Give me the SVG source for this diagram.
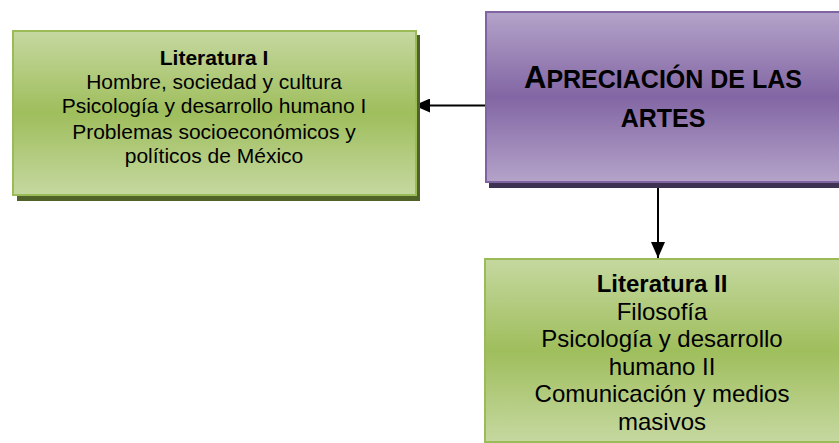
<svg xmlns="http://www.w3.org/2000/svg" width="839" height="443" viewBox="0 0 839 443">
<style>
  text { font-family: "Liberation Sans", Arial, sans-serif; fill: #000; text-anchor: middle; }
  .b { font-weight: bold; }
  .t1 { font-size: 21px; }
  .t3 { font-size: 24px; }
  .gbox { fill: url(#gGreen); stroke: #9bbb59; stroke-width: 2; }
  .gsh { fill: #4f6228; }
  .pbox { fill: url(#gPurple); stroke: #8064a2; stroke-width: 2; }
  .psh { fill: #3f3151; }
  .conn { stroke: #000; stroke-width: 2; fill: none; }
</style>
<defs>
  <linearGradient id="gGreen" x1="0" y1="0" x2="0" y2="1">
    <stop offset="0" stop-color="#c5d8a0"/>
    <stop offset="0.5" stop-color="#9fbe5c"/>
    <stop offset="1" stop-color="#c5d8a0"/>
  </linearGradient>
  <linearGradient id="gPurple" x1="0" y1="0" x2="0" y2="1">
    <stop offset="0" stop-color="#b4a3c9"/>
    <stop offset="0.5" stop-color="#8266a4"/>
    <stop offset="1" stop-color="#b4a3c9"/>
  </linearGradient>
  <marker id="ah" viewBox="0 0 16 14" refX="16" refY="7" markerWidth="16" markerHeight="14" markerUnits="userSpaceOnUse" orient="auto">
    <path d="M0,0 L16,7 L0,14 Z" fill="#000"/>
  </marker>
</defs>

<g id="connectors">
  <line class="conn" x1="486" y1="105.5" x2="414" y2="105.5" marker-end="url(#ah)"/>
  <line class="conn" x1="658" y1="187" x2="658" y2="258" marker-end="url(#ah)"/>
</g>

<g id="node-literatura-1">
  <rect class="gsh" x="17" y="35" width="403" height="166"/>
  <rect class="gbox" x="13" y="31" width="403" height="164"/>
  <text class="t1 b" x="214" y="65">Literatura I</text>
  <text class="t1" x="214" y="89">Hombre, sociedad y cultura</text>
  <text class="t1" x="214" y="113">Psicología y desarrollo humano I</text>
  <text class="t1" x="214" y="139">Problemas socioeconómicos y</text>
  <text class="t1" x="214" y="163">políticos de México</text>
</g>

<g id="node-apreciacion">
  <rect class="psh" x="489" y="16" width="360" height="172"/>
  <rect class="pbox" x="486" y="12" width="360" height="170"/>
  <text class="b" x="663" y="88" style="font-size:25px"><tspan style="font-size:31px">A</tspan>PRECIACIÓN DE LAS</text>
  <text class="b" x="663" y="127" style="font-size:25px">ARTES</text>
</g>

<g id="node-literatura-2">
  <rect class="gbox" x="485" y="259" width="360" height="183"/>
  <text class="t3 b" x="662" y="292">Literatura II</text>
  <text class="t3" x="662" y="320">Filosofía</text>
  <text class="t3" x="662" y="347">Psicología y desarrollo</text>
  <text class="t3" x="662" y="375">humano II</text>
  <text class="t3" x="662" y="402">Comunicación y medios</text>
  <text class="t3" x="662" y="430">masivos</text>
</g>
</svg>
